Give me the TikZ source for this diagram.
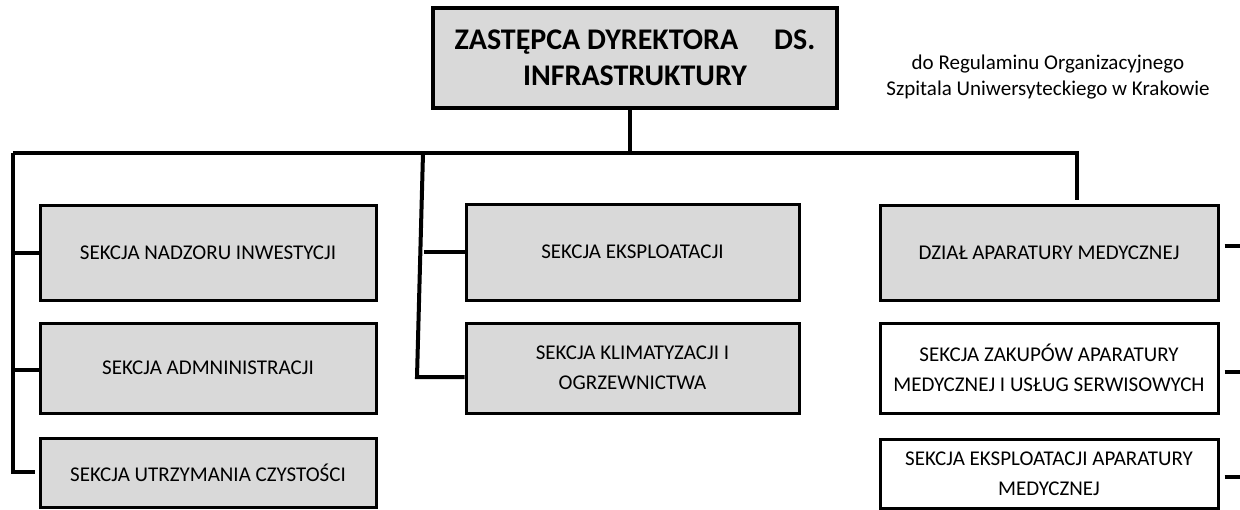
\documentclass[tikz,border=0pt]{standalone}
\usepackage{fontspec}
\setmainfont{Carlito}
\begin{document}
\begin{tikzpicture}[x=1pt,y=-1pt,
  box/.style={draw=black, line width=3pt, fill=boxgray, inner sep=0pt, align=center, font=\fontsize{21}{30}\selectfont},
  wbox/.style={box, fill=white},
  conn/.style={line width=4pt, line cap=butt, line join=miter}]
\definecolor{boxgray}{HTML}{D9D9D9}
\useasboundingbox (0,0) rectangle (1240,509);
\node[box, line width=4pt, minimum width=404pt, minimum height=100pt, font=\fontsize{30}{36}\selectfont\bfseries] (top) at (635,58) {ZASTĘPCA DYREKTORA\hspace{1.2em}DS.\\INFRASTRUKTURY};
\node[font=\fontsize{21}{26}\selectfont, align=center] (note) at (1048,77) {do Regulaminu Organizacyjnego\\Szpitala Uniwersyteckiego w Krakowie};
% left column
\node[box, minimum width=336pt, minimum height=95pt] (l1) at (208,252.5) {SEKCJA NADZORU INWESTYCJI};
\node[box, minimum width=336pt, minimum height=90pt] (l2) at (208,368) {SEKCJA ADMNINISTRACJI};
\node[box, minimum width=336pt, minimum height=69pt] (l3) at (208,472.5) {SEKCJA UTRZYMANIA CZYSTOŚCI};
% middle column
\node[box, minimum width=333pt, minimum height=96pt] (m1) at (632.5,252) {SEKCJA EKSPLOATACJI};
\node[box, minimum width=333pt, minimum height=90pt] (m2) at (632.5,368) {SEKCJA KLIMATYZACJI I\\OGRZEWNICTWA};
% right column
\node[box, minimum width=338pt, minimum height=95pt] (r1) at (1049,252.5) {DZIAŁ APARATURY MEDYCZNEJ};
\node[wbox, minimum width=338pt, minimum height=90pt] (r2) at (1049,368) {SEKCJA ZAKUPÓW APARATURY\\MEDYCZNEJ I USŁUG SERWISOWYCH};
\node[wbox, minimum width=338pt, minimum height=69pt] (r3) at (1049,473.5) {SEKCJA EKSPLOATACJI APARATURY\\MEDYCZNEJ};
% bus coordinates
\coordinate (busL) at (13,153);
\coordinate (busM) at (630,153);
\coordinate (busR) at (1077,153);
\coordinate (rdrop) at (1077,200);
\coordinate (lbot) at (13,472);
\coordinate (l3end) at (35,472);
\coordinate (mtop) at (423,153);
\coordinate (mbot) at (417,377);
\coordinate (rt1) at (1240,246);
\coordinate (rt2) at (1240,372);
\coordinate (rt3) at (1240,477);
% connectors
\draw[conn] (top.south -| busM) -- (busM);
\draw[conn] (busL) -- (busR) -- (rdrop);
\draw[conn] (busL) -- (lbot) -- (l3end);
\draw[conn] (busL |- l1.west) -- (l1.west);
\draw[conn] (busL |- 0,370) -- (l2.west |- 0,370);
\draw[conn] (mtop) -- (mbot) -- (mbot -| m2.west);
\draw[conn] (424,252) -- (m1.west);
\draw[conn] (r1.east |- rt1) ++(5,0) -- (rt1);
\draw[conn] (r2.east |- rt2) ++(5,0) -- (rt2);
\draw[conn] (r3.east |- rt3) ++(5,0) -- (rt3);
\end{tikzpicture}
\end{document}
